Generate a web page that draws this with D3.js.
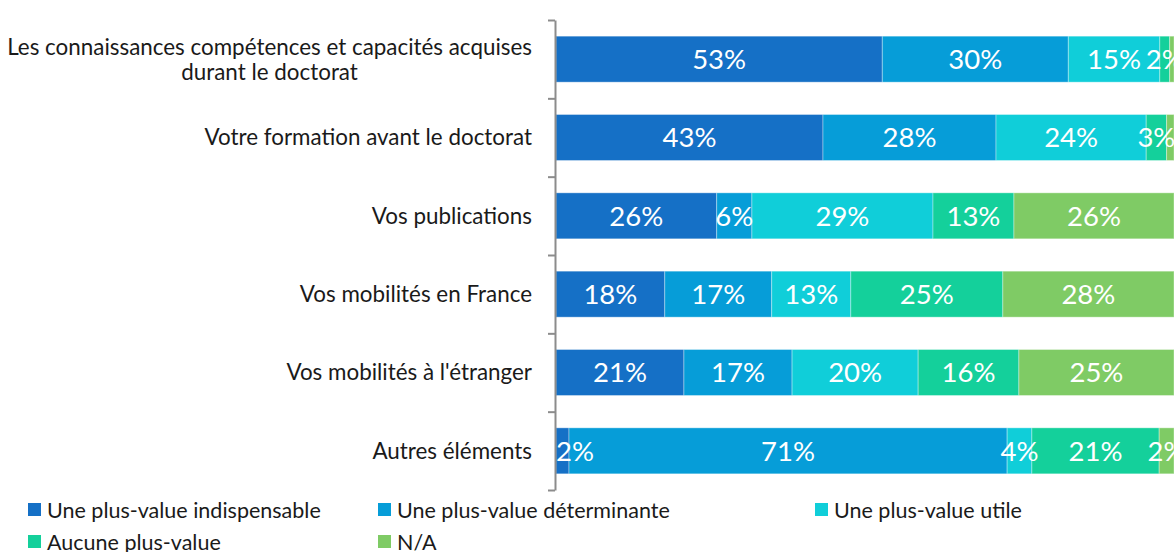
<!DOCTYPE html>
<html>
<head>
<meta charset="utf-8">
<script src="https://cdn.jsdelivr.net/npm/d3@7"></script>
<style>
  body { margin: 0; background: #fff; }
  svg { display: block; font-family: "Lato", "Open Sans", sans-serif; }
  .axis path, .axis line { stroke: #8c8c8c; stroke-width: 2px; }
</style>
</head>
<body>
<svg width="1176" height="552"></svg>
<script>
// categories, top to bottom
var categories = [
  ["Les connaissances compétences et capacités acquises", "durant le doctorat"],
  ["Votre formation avant le doctorat"],
  ["Vos publications"],
  ["Vos mobilités en France"],
  ["Vos mobilités à l'étranger"],
  ["Autres éléments"]
];

var series = [
  "Une plus-value indispensable",
  "Une plus-value déterminante",
  "Une plus-value utile",
  "Aucune plus-value",
  "N/A"
];

// percent values per series, one per category
var indispensable = [52.8, 43.2, 26.0, 17.6, 20.7, 2.1];
var determinante  = [30.1, 28.0, 5.7, 17.3, 17.5, 70.9];
var utile         = [14.8, 24.3, 29.3, 12.8, 20.4, 4.0];
var aucune        = [1.6, 3.3, 13.1, 24.6, 16.3, 20.6];
var na            = [0.7, 1.2, 25.9, 27.7, 25.1, 2.4];

// labels shown on the bars
var labels = [
  ["53%", "30%", "15%", "2%", ""],
  ["43%", "28%", "24%", "3%", ""],
  ["26%", "6%", "29%", "13%", "26%"],
  ["18%", "17%", "13%", "25%", "28%"],
  ["21%", "17%", "20%", "16%", "25%"],
  ["2%", "71%", "4%", "21%", "2%"]
];

var colors = ["#1570c6", "#069dd8", "#10ced9", "#14d09b", "#7fcb65"];

var values = [indispensable, determinante, utile, aucune, na];

var rows = categories.map(function(c, i) {
  var r = { idx: i };
  series.forEach(function(s, j) { r[s] = values[j][i]; });
  return r;
});

var stack = d3.stack().keys(series);
var layers = stack(rows);

var svg = d3.select("svg");
var plotLeft = 556, plotRight = 1174, plotTop = 20, plotBottom = 490;

var x = d3.scaleLinear().domain([0, 100]).range([plotLeft, plotRight]);
var y = d3.scaleBand()
  .domain(d3.range(categories.length))
  .range([plotTop, plotBottom])
  .paddingInner(0.413)
  .paddingOuter(0.2065);

// bars
var layer = svg.append("g").selectAll("g")
  .data(layers)
  .enter().append("g")
    .attr("fill", function(d, i) { return colors[i]; });

layer.selectAll("rect")
  .data(function(d) { return d; })
  .enter().append("rect")
    .attr("x", function(d) { return x(d[0]); })
    .attr("y", function(d) { return y(d.data.idx); })
    .attr("width", function(d) { return x(d[1]) - x(d[0]); })
    .attr("height", y.bandwidth())
    .attr("stroke", "#ffffff")
    .attr("stroke-opacity", 0.35)
    .attr("stroke-width", 1);

// data labels
layers.forEach(function(l, j) {
  svg.append("g").selectAll("text")
    .data(l)
    .enter().append("text")
      .attr("x", function(d) {
        var cx = (x(d[0]) + x(d[1])) / 2;
        return Math.max(cx, plotLeft + 19);
      })
      .attr("y", function(d) { return y(d.data.idx) + y.bandwidth() / 2; })
      .attr("dy", "0.36em")
      .attr("text-anchor", "middle")
      .attr("fill", "#ffffff")
      .style("font-size", "27.5px")
      .text(function(d) { return labels[d.data.idx][j]; });
});

// axis with ticks between the bars
var yTick = d3.scaleLinear().domain([0, categories.length]).range([plotTop, plotBottom]);
svg.append("g")
  .attr("class", "axis")
  .attr("transform", "translate(" + (plotLeft - 1) + ",0)")
  .call(d3.axisLeft(yTick).ticks(categories.length).tickSize(7).tickSizeOuter(0).tickFormat(""));

// category labels, right aligned, multi-line centred on the block
var catG = svg.append("g").style("font-size", "22.4px").attr("fill", "#1a1a1a");
categories.forEach(function(lines, i) {
  var cy = y(i) + y.bandwidth() / 2;
  var t = catG.append("text").attr("text-anchor", "middle");
  var lh = 25;
  var spans = lines.map(function(line, k) {
    return t.append("tspan")
      .attr("y", cy + (k - (lines.length - 1) / 2) * lh)
      .attr("dy", "0.35em")
      .text(line);
  });
  var w = d3.max(spans, function(s) { return s.node().getComputedTextLength(); });
  spans.forEach(function(s) { s.attr("x", 532 - w / 2); });
});

// legend
var legendPos = [[28, 510], [378, 510], [815, 510], [28, 542], [378, 542]];
var lg = svg.append("g").style("font-size", "21.5px");
series.forEach(function(s, i) {
  var p = legendPos[i];
  lg.append("rect")
    .attr("x", p[0]).attr("y", p[1] - 7)
    .attr("width", 13).attr("height", 13)
    .attr("fill", colors[i]);
  lg.append("text")
    .attr("x", p[0] + 19).attr("y", p[1])
    .attr("dy", "0.35em")
    .attr("fill", "#1a1a1a")
    .text(s);
});
</script>
</body>
</html>
